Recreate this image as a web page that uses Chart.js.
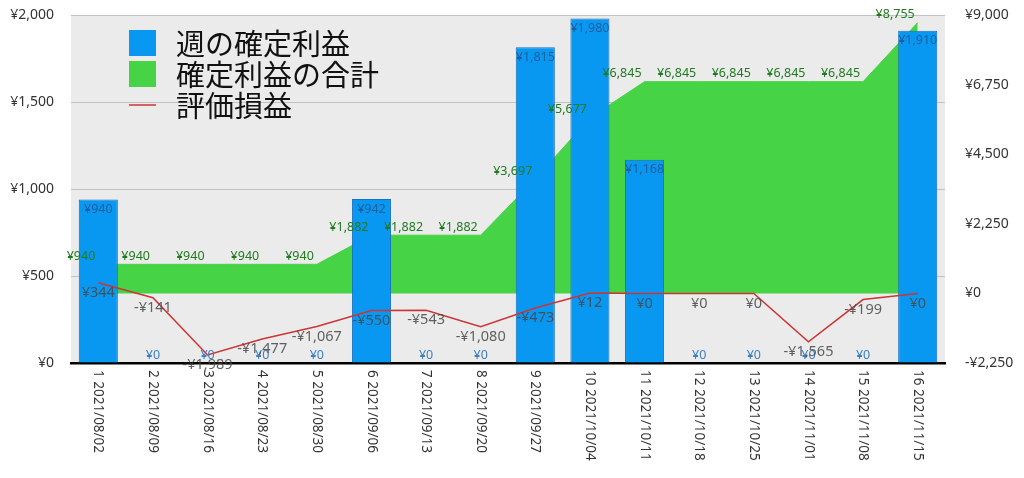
<!DOCTYPE html>
<html>
<head>
<meta charset="utf-8">
<script src="https://cdn.jsdelivr.net/npm/chart.js@4"></script>
<style>
  html, body { margin: 0; padding: 0; background: #fff; }
  #wrap { width: 1024px; height: 478px; }
</style>
</head>
<body>
<div id="wrap"><canvas id="grafico" width="1024" height="478"></canvas></div>
<script>
// dados
const semanas = [
    "1 2021/08/02", "2 2021/08/09", "3 2021/08/16", "4 2021/08/23",
    "5 2021/08/30", "6 2021/09/06", "7 2021/09/13", "8 2021/09/20",
    "9 2021/09/27", "10 2021/10/04", "11 2021/10/11", "12 2021/10/18",
    "13 2021/10/25", "14 2021/11/01", "15 2021/11/08", "16 2021/11/15",
];
const lucroSemana = [940, 0, 0, 0, 0, 942, 0, 0, 1815, 1980, 1168, 0, 0, 0, 0, 1910];
const lucroTotal = [940, 940, 940, 940, 940, 1882, 1882, 1882, 3697, 5677, 6845, 6845, 6845, 6845, 6845, 8755];
const avaliacao = [344, -141, -1989, -1477, -1067, -550, -543, -1080, -473, 12, 0, 0, 0, -1565, -199, 0];
const nomes = ["週の確定利益", "確定利益の合計", "評価損益"];

const azul = "#0898f2";
const verde = "#46d446";
const vermelho = "#cc3535";
const fonteNum = "'Noto Sans', 'Liberation Sans', sans-serif";
const fonteJp = "'Noto Sans CJK JP', sans-serif";

const yen = (v) => (v < 0 ? "-" : "") + "¥" + Math.abs(v).toLocaleString("en-US");

// fundo cinza da área do gráfico
const fundo = {
    id: "fundo",
    beforeDraw(chart) {
        const { ctx, chartArea: a } = chart;
        ctx.save();
        ctx.fillStyle = "#ebebeb";
        ctx.fillRect(a.left, a.top, a.right - a.left, a.bottom - a.top);
        ctx.restore();
    },
};

// rótulos dos valores
const rotulos = {
    id: "rotulos",
    afterDatasetsDraw(chart) {
        const ctx = chart.ctx;
        const x = chart.scales.x;
        const y = chart.scales.y;
        const y1 = chart.scales.y1;
        ctx.save();
        ctx.textBaseline = "middle";

        // soma acumulada
        ctx.font = "12.5px " + fonteNum;
        ctx.fillStyle = "#1f7a1f";
        ctx.textAlign = "right";
        lucroTotal.forEach((v, i) => {
            ctx.fillText(yen(v), x.getPixelForValue(i) - 3, y1.getPixelForValue(v) - 8);
        });

        // barras
        ctx.textAlign = "center";
        lucroSemana.forEach((v, i) => {
            const px = x.getPixelForValue(i);
            if (v > 0) {
                ctx.fillStyle = "#1d5f9c";
                ctx.fillText(yen(v), px, y.getPixelForValue(v) + 10);
            } else {
                ctx.fillStyle = "#3c80c4";
                ctx.fillText(yen(v), px, y.getPixelForValue(0) - 8);
            }
        });

        // linha vermelha
        ctx.font = "14.5px " + fonteNum;
        ctx.fillStyle = "rgba(70, 70, 70, 0.85)";
        avaliacao.forEach((v, i) => {
            ctx.fillText(yen(v), x.getPixelForValue(i), y1.getPixelForValue(v) + 10);
        });
        ctx.restore();
    },
    afterDraw(chart) {
        const ctx = chart.ctx;
        const x = chart.scales.x;
        const a = chart.chartArea;
        ctx.save();

        // rótulos do eixo x, girados para baixo
        ctx.font = "13.5px " + fonteNum;
        ctx.fillStyle = "#333";
        ctx.textAlign = "left";
        ctx.textBaseline = "middle";
        semanas.forEach((s, i) => {
            ctx.save();
            ctx.translate(x.getPixelForValue(i), a.bottom + 7);
            ctx.rotate(Math.PI / 2);
            ctx.fillText(s, 0, 0);
            ctx.restore();
        });

        // legenda
        const lx = a.left + 58;
        ctx.fillStyle = azul;
        ctx.fillRect(lx, 30, 27, 26);
        ctx.fillStyle = verde;
        ctx.fillRect(lx, 61, 27, 26);
        ctx.strokeStyle = vermelho;
        ctx.lineWidth = 1.5;
        ctx.beginPath();
        ctx.moveTo(lx, 105);
        ctx.lineTo(lx + 27, 105);
        ctx.stroke();
        ctx.font = "29px " + fonteJp;
        ctx.fillStyle = "#111";
        ctx.textAlign = "left";
        ctx.textBaseline = "middle";
        [44, 75, 106].forEach((ly, k) => ctx.fillText(nomes[k], lx + 47, ly));
        ctx.restore();
    },
};

document.addEventListener("DOMContentLoaded", () => {
    const ctx = document.getElementById("grafico").getContext("2d");

    const myChart = new Chart(ctx, {
        type: "bar",
        data: {
            labels: semanas,
            datasets: [
                {
                    type: "line",
                    label: nomes[2],
                    data: avaliacao,
                    yAxisID: "y1",
                    borderColor: vermelho,
                    borderWidth: 1.5,
                    pointRadius: 0,
                    tension: 0,
                    fill: false,
                    order: 0,
                },
                {
                    type: "bar",
                    label: nomes[0],
                    data: lucroSemana,
                    yAxisID: "y",
                    backgroundColor: azul,
                    borderColor: "#1670c0",
                    borderWidth: 1,
                    categoryPercentage: 1,
                    barPercentage: 0.715,
                    order: 1,
                },
                {
                    type: "line",
                    label: nomes[1],
                    data: lucroTotal,
                    yAxisID: "y1",
                    borderColor: verde,
                    borderWidth: 1,
                    backgroundColor: verde,
                    pointRadius: 0,
                    tension: 0,
                    fill: "origin",
                    order: 2,
                },
            ],
        },
        options: {
            responsive: false,
            animation: false,
            layout: { padding: { top: 15, left: 0, right: 0, bottom: 0 } },
            plugins: {
                legend: { display: false },
                tooltip: { enabled: false },
            },
            scales: {
                x: {
                    offset: true,
                    grid: { display: false },
                    border: { color: "#000", width: 2.5 },
                    ticks: { display: false },
                    afterFit: (s) => { s.height = 115; },
                },
                y: {
                    position: "left",
                    min: 0,
                    max: 2000,
                    ticks: {
                        stepSize: 500,
                        padding: 2,
                        color: "#333",
                        font: { size: 14, family: fonteNum },
                        callback: (v) => yen(v),
                    },
                    grid: { color: "#c2c2c2", drawTicks: true, tickLength: 15, tickColor: "rgba(0,0,0,0)" },
                    border: { display: false },
                    afterFit: (s) => { s.width = 71; },
                },
                y1: {
                    position: "right",
                    min: -2250,
                    max: 9000,
                    ticks: {
                        stepSize: 2250,
                        padding: 2,
                        color: "#333",
                        font: { size: 14, family: fonteNum },
                        callback: (v) => yen(v),
                    },
                    grid: { drawOnChartArea: false, drawTicks: true, tickLength: 18, tickColor: "rgba(0,0,0,0)" },
                    border: { display: false },
                    afterFit: (s) => { s.width = 79; },
                },
            },
        },
        plugins: [fundo, rotulos],
    });
});
</script>
</body>
</html>
